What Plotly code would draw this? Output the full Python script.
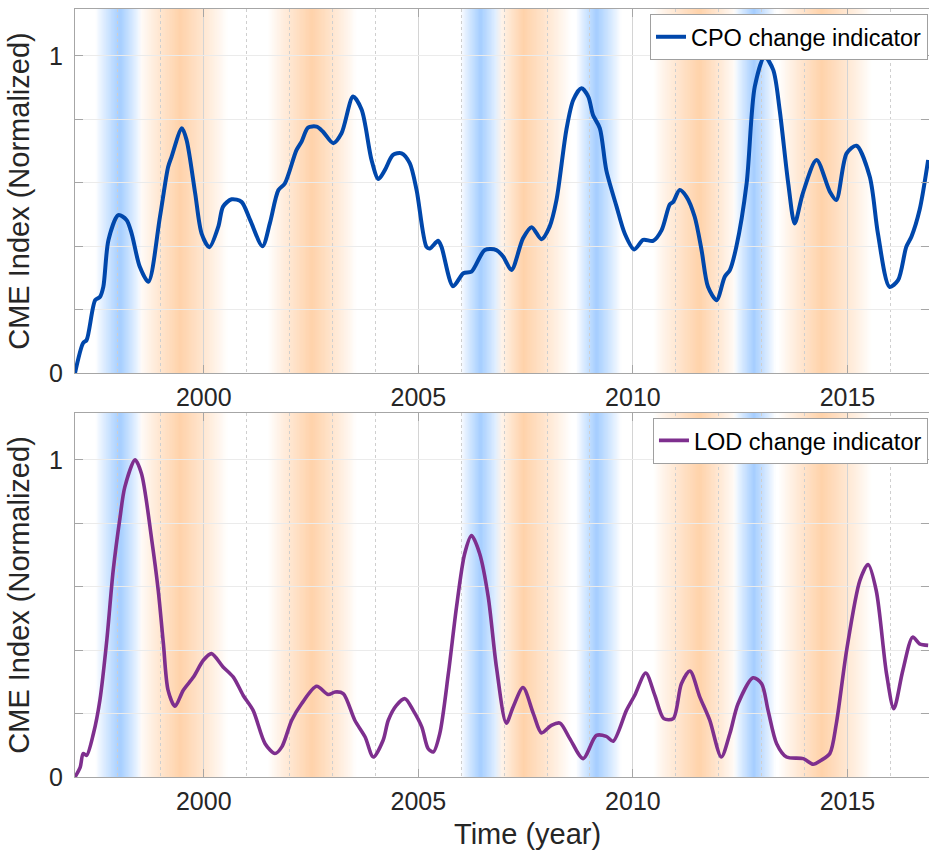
import numpy as np
import plotly.graph_objects as go
from plotly.subplots import make_subplots

# ---------------- data ----------------
cpo_year = [1997.00, 1997.19, 1997.27, 1997.47, 1997.58, 1997.66, 1997.78, 1998.01, 1998.20, 1998.32,
            1998.51, 1998.71, 1998.98, 1999.17, 1999.25, 1999.49, 1999.60, 1999.80, 1999.95, 2000.13,
            2000.34, 2000.45, 2000.65, 2000.88, 2001.08, 2001.37, 2001.54, 2001.74, 2001.89, 2002.16,
            2002.28, 2002.43, 2002.63, 2002.78, 2003.02, 2003.21, 2003.48, 2003.68, 2003.91, 2004.07,
            2004.22, 2004.41, 2004.61, 2004.80, 2004.96, 2005.19, 2005.27, 2005.46, 2005.54, 2005.81,
            2006.05, 2006.24, 2006.55, 2006.82, 2006.98, 2007.17, 2007.44, 2007.64, 2007.87, 2008.06,
            2008.22, 2008.45, 2008.61, 2008.80, 2008.96, 2009.07, 2009.23, 2009.38, 2009.62, 2009.81,
            2010.03, 2010.24, 2010.47, 2010.67, 2010.86, 2010.94, 2011.09, 2011.25, 2011.44, 2011.60,
            2011.75, 2011.95, 2012.14, 2012.26, 2012.41, 2012.65, 2012.84, 2013.07, 2013.27, 2013.42,
            2013.62, 2013.77, 2013.96, 2014.28, 2014.59, 2014.74, 2014.98, 2015.21, 2015.52, 2015.71,
            2015.98, 2016.18, 2016.37, 2016.49, 2016.68, 2016.88]
cpo_value = [0.000, 0.095, 0.104, 0.230, 0.240, 0.272, 0.420, 0.498, 0.483, 0.440,
             0.335, 0.288, 0.493, 0.650, 0.682, 0.772, 0.735, 0.567, 0.440, 0.397,
             0.462, 0.525, 0.548, 0.540, 0.483, 0.400, 0.472, 0.577, 0.598, 0.703,
             0.730, 0.774, 0.777, 0.761, 0.725, 0.756, 0.872, 0.830, 0.672, 0.612,
             0.640, 0.688, 0.693, 0.662, 0.577, 0.398, 0.393, 0.417, 0.398, 0.274,
             0.315, 0.320, 0.388, 0.388, 0.367, 0.325, 0.425, 0.460, 0.422, 0.462,
             0.546, 0.767, 0.861, 0.898, 0.872, 0.814, 0.772, 0.640, 0.525, 0.440,
             0.390, 0.420, 0.417, 0.451, 0.532, 0.540, 0.577, 0.556, 0.493, 0.388,
             0.272, 0.230, 0.304, 0.325, 0.398, 0.598, 0.903, 0.998, 0.956, 0.830,
             0.598, 0.472, 0.567, 0.672, 0.572, 0.546, 0.693, 0.717, 0.619, 0.440,
             0.272, 0.293, 0.398, 0.430, 0.514, 0.672]

lod_year = [1997.00, 1997.12, 1997.19, 1997.27, 1997.43, 1997.58, 1997.74, 1997.89, 1998.05, 1998.16,
            1998.40, 1998.55, 1998.79, 1998.94, 1999.06, 1999.17, 1999.33, 1999.52, 1999.76, 1999.99,
            2000.18, 2000.45, 2000.69, 2000.92, 2001.15, 2001.43, 2001.66, 2001.82, 2002.05, 2002.28,
            2002.63, 2002.90, 2003.06, 2003.25, 2003.52, 2003.76, 2003.95, 2004.18, 2004.30, 2004.49,
            2004.69, 2004.88, 2005.08, 2005.23, 2005.35, 2005.50, 2005.70, 2005.89, 2006.08, 2006.24,
            2006.43, 2006.63, 2006.82, 2007.05, 2007.21, 2007.44, 2007.68, 2007.87, 2008.10, 2008.30,
            2008.53, 2008.84, 2009.15, 2009.38, 2009.54, 2009.85, 2010.04, 2010.30, 2010.51, 2010.72,
            2010.94, 2011.13, 2011.33, 2011.56, 2011.79, 2012.06, 2012.26, 2012.45, 2012.80, 2013.00,
            2013.15, 2013.35, 2013.58, 2013.97, 2014.20, 2014.39, 2014.59, 2014.74, 2014.98, 2015.29,
            2015.48, 2015.67, 2015.91, 2016.08, 2016.29, 2016.52, 2016.68, 2016.88]
lod_value = [0.000, 0.030, 0.074, 0.068, 0.137, 0.242, 0.430, 0.651, 0.819, 0.914,
             1.000, 0.956, 0.746, 0.588, 0.420, 0.273, 0.223, 0.273, 0.315, 0.368,
             0.389, 0.347, 0.315, 0.257, 0.210, 0.105, 0.074, 0.095, 0.179, 0.231,
             0.286, 0.260, 0.268, 0.263, 0.179, 0.126, 0.063, 0.116, 0.179, 0.226,
             0.247, 0.210, 0.158, 0.089, 0.079, 0.137, 0.326, 0.536, 0.704, 0.761,
             0.704, 0.567, 0.347, 0.170, 0.221, 0.282, 0.200, 0.139, 0.163, 0.170,
             0.121, 0.058, 0.131, 0.128, 0.113, 0.210, 0.257, 0.328, 0.258, 0.184,
             0.184, 0.294, 0.334, 0.252, 0.179, 0.063, 0.137, 0.231, 0.313, 0.294,
             0.210, 0.105, 0.063, 0.058, 0.040, 0.053, 0.074, 0.168, 0.399, 0.620,
             0.670, 0.588, 0.326, 0.215, 0.336, 0.441, 0.420, 0.415]

# shaded periods: start, peak, end, kind
band_start = [1997.48, 1998.48, 2001.50, 2005.98, 2006.80, 2008.68, 2010.48, 2012.36, 2013.40]
band_peak  = [1998.05, 1999.45, 2002.52, 2006.45, 2007.45, 2009.15, 2011.55, 2012.82, 2014.40]
band_end   = [1998.55, 2000.55, 2003.55, 2006.95, 2008.55, 2009.72, 2012.42, 2013.32, 2015.55]
band_kind  = ["blue", "orange", "orange", "blue", "orange", "blue", "orange", "blue", "orange"]

x_ticks = [2000, 2005, 2010, 2015]
y_ticks = [0, 0.2, 0.4, 0.6, 0.8, 1.0]
y_ticktext = ["0", "", "", "", "", "1"]

# ---------------- styling ----------------
FONT = "Liberation Sans, Arial, Helvetica, sans-serif"
TXT = "#262626"
PEAK = {"blue": (165, 206, 255), "orange": (255, 210, 170)}

fig = make_subplots(rows=2, cols=1, shared_xaxes=False, vertical_spacing=0.0522)

fig.add_trace(go.Scatter(x=cpo_year, y=cpo_value, mode="lines", name="CPO change indicator",
                         line=dict(color="#0047AB", width=4, shape="spline", smoothing=0.8),
                         legend="legend"), row=1, col=1)
fig.add_trace(go.Scatter(x=lod_year, y=lod_value, mode="lines", name="LOD change indicator",
                         line=dict(color="#7E2F8E", width=3.6, shape="spline", smoothing=0.8),
                         legend="legend2"), row=2, col=1)

# gradient bands built from thin opaque slices
step = 0.03
xs = np.arange(min(band_start), max(band_end) + step, step)
WHITE = np.array([255.0, 255.0, 255.0])
def band_color(x):
    total = np.zeros(3)
    for s, p, e, k in zip(band_start, band_peak, band_end, band_kind):
        if x < s or x > e:
            continue
        t = (x - s) / (p - s) if x <= p else (e - x) / (e - p)
        t = max(0.0, min(1.0, t)) ** 0.9
        total += t * (WHITE - np.array(PEAK[k]))
    return np.clip(WHITE - total, 0, 255), total.sum() > 0.5

shapes = []
for xi in xs:
    col, on = band_color(xi + step / 2)
    if not on:
        continue
    color = "rgb(%d,%d,%d)" % tuple(int(round(c)) for c in col)
    for xr, yr in (("x", "y domain"), ("x2", "y2 domain")):
        shapes.append(dict(type="rect", xref=xr, yref=yr, x0=xi, x1=xi + step * 1.6, y0=0, y1=1,
                           fillcolor=color, line=dict(width=0), layer="below"))

axis_common = dict(showline=True, linecolor="#a6a6a6", linewidth=1, mirror="ticks",
                   ticks="inside", ticklen=8, tickcolor="#a6a6a6", zeroline=False,
                   tickfont=dict(size=25, color=TXT, family=FONT))
for r in (1, 2):
    fig.update_xaxes(range=[1997.0, 2016.9], tickvals=x_ticks, showgrid=True, gridcolor="#d4d4d4",
                     gridwidth=1, ticklabelstandoff=2,
                     minor=dict(dtick=1, tick0=1997, showgrid=True, gridcolor="#cfcfcf", griddash="dot",
                                gridwidth=1, ticks=""),
                     row=r, col=1, **axis_common)
    fig.update_yaxes(range=[0, 1.148], tickvals=y_ticks, ticktext=y_ticktext, showgrid=True,
                     gridcolor="#ebebeb", gridwidth=1, ticklabelstandoff=6,
                     title=dict(text="CME Index (Normalized)", font=dict(size=29, color=TXT, family=FONT),
                                standoff=10),
                     row=r, col=1, **axis_common)

fig.update_layout(
    width=929, height=852,
    margin=dict(l=75, r=0, t=9, b=75),
    plot_bgcolor="white", paper_bgcolor="white",
    font=dict(family=FONT, color=TXT),
    shapes=shapes,
    showlegend=True,
    annotations=[dict(text="Time (year)", xref="paper", yref="paper", x=0.530, y=-0.0742,
                      xanchor="center", yanchor="middle", showarrow=False,
                      font=dict(size=29, color=TXT, family=FONT))],
    legend=dict(x=0.9988, y=0.9935, xanchor="right", yanchor="top", bgcolor="white",
                bordercolor="#a0a0a0", borderwidth=1, font=dict(size=23.5, color="black", family=FONT),
                itemwidth=30, tracegroupgap=0),
    legend2=dict(x=0.9988, y=0.468, xanchor="right", yanchor="top", bgcolor="white",
                 bordercolor="#a0a0a0", borderwidth=1, font=dict(size=23.5, color="black", family=FONT),
                 itemwidth=30, tracegroupgap=0),
)
fig.update_layout(xaxis=dict(domain=[0, 1]), yaxis=dict(domain=[0.5259, 1.0]),
                  xaxis2=dict(domain=[0, 1]), yaxis2=dict(domain=[0.0, 0.4741]))

fig.write_html("out.html")
